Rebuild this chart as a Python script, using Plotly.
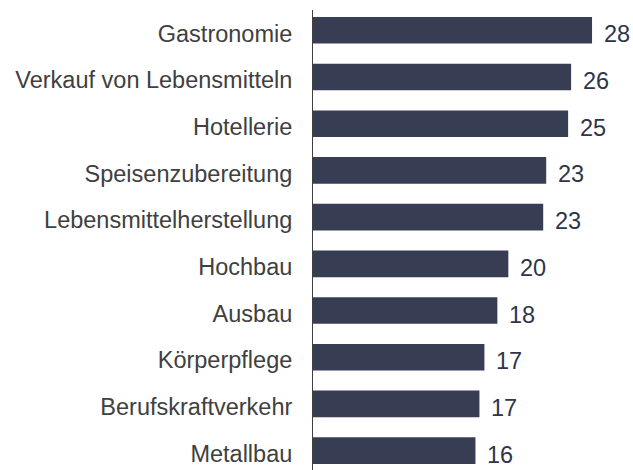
import plotly.graph_objects as go

categories = ["Gastronomie", "Verkauf von Lebensmitteln", "Hotellerie", "Speisenzubereitung",
              "Lebensmittelherstellung", "Hochbau", "Ausbau", "Körperpflege",
              "Berufskraftverkehr", "Metallbau"]
values = [28.0, 25.9, 25.6, 23.4, 23.1, 19.6, 18.5, 17.2, 16.7, 16.3]
value_labels = ["28", "26", "25", "23", "23", "20", "18", "17", "17", "16"]

BAR = "#373e53"
LABEL = "#2e3549"
TICK = "#404040"
FONT = "Liberation Sans, Arial, sans-serif"
FS = 23.5

fig = go.Figure(go.Bar(
    x=values, y=categories, orientation="h",
    marker=dict(color=BAR, line=dict(width=0)),
    width=0.57, offset=-0.35,
    hoverinfo="skip",
))

for c, v, t in zip(categories, values, value_labels):
    fig.add_annotation(x=v, y=c, text=t, showarrow=False, xanchor="left",
                       yanchor="middle", xshift=10, yshift=-1,
                       font=dict(family=FONT, size=FS, color=LABEL))

fig.update_layout(
    width=633, height=470,
    margin=dict(l=313, r=0, t=10, b=0),
    paper_bgcolor="white", plot_bgcolor="white",
    showlegend=False,
    font=dict(family=FONT, size=FS, color=TICK),
    xaxis=dict(range=[0, 32.11], visible=False, showgrid=False, zeroline=False),
    yaxis=dict(categoryorder="array", categoryarray=categories,
               range=[9.35, -0.5], showgrid=False, zeroline=False,
               showline=True, linecolor="#404040", linewidth=1,
               ticks="", ticklabelstandoff=15,
               tickfont=dict(family=FONT, size=FS, color=TICK)),
)

fig.write_html("out.html", config={"displayModeBar": False},
               post_script="document.body.style.margin='0';")
